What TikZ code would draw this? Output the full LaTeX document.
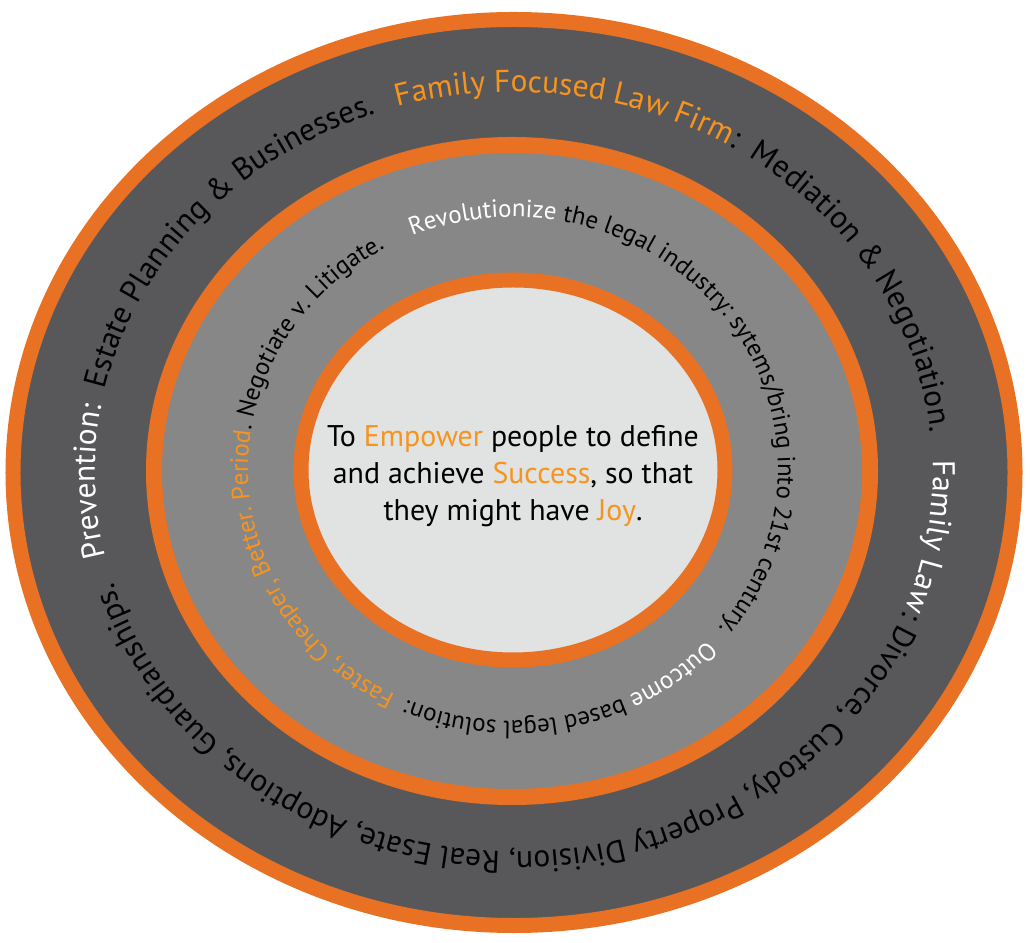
\documentclass[tikz,border=0pt]{standalone}
\usepackage{fontspec}
\setmainfont{PT Sans}
\usetikzlibrary{decorations.text,calc}
\definecolor{ring}{HTML}{E87124}
\definecolor{darkband}{HTML}{58585A}
\definecolor{midband}{HTML}{878787}
\definecolor{lightcore}{HTML}{E1E2E2}
\definecolor{txtor}{HTML}{F7941D}
\newcommand\OutW{\fontsize{31.5}{31.5}\selectfont\color{white}}
\newcommand\OutK{\fontsize{31.5}{31.5}\selectfont\color{black}}
\newcommand\OutO{\fontsize{31.5}{31.5}\selectfont\color{txtor}}
\newcommand\MidW{\fontsize{25}{25}\selectfont\color{white}}
\newcommand\MidK{\fontsize{25}{25}\selectfont\color{black}}
\newcommand\MidO{\fontsize{25}{25}\selectfont\color{txtor}}
\tikzset{
  band/.style={draw=ring},
  ringtext/.style={decorate, decoration={text along path, text align=center, text={#1}}}
}
\begin{document}
\begin{tikzpicture}[x=1bp,y=1bp]
\useasboundingbox (0,0) rectangle (1030,943);
\coordinate (oc) at (514,470.5);
\coordinate (mc) at (512,472);
\coordinate (ic) at (513,473);
\coordinate (tc) at (514,471);
\coordinate (sc) at (513,474);
% rings
\draw[band, line width=15bp, fill=darkband] (oc) ellipse [x radius=501bp, y radius=453bp];
\draw[band, line width=16bp, fill=midband] (mc) ellipse [x radius=358bp, y radius=326bp];
\draw[band, line width=15bp, fill=lightcore] (ic) ellipse [x radius=212bp, y radius=190bp];
% outer ring text
\path[ringtext={|\OutW|Prevention:~ |\OutK|Estate Planning {\&} Businesses.}]
  ($(tc)+(211.75:419bp and 380bp)$) arc[start angle=211.75, end angle=91.75, x radius=419bp, y radius=380bp];
\path[ringtext={|\OutO|Family Focused Law Firm|\OutK|:~ Mediation {\&} Negotiation.}]
  ($(tc)+(125.25:419bp and 380bp)$) arc[start angle=125.25, end angle=-14.75, x radius=419bp, y radius=380bp];
\path[ringtext={|\OutW|Family Law|\OutK|: Divorce, Custody, Property Division, Real Esate, Adoptions, Guardianships.}]
  ($(tc)+(29.25:419bp and 380bp)$) arc[start angle=29.25, end angle=-190.75, x radius=419bp, y radius=380bp];
% middle ring text
\path[ringtext={|\MidW|Revolutionize |\MidK|the legal industry: sytems/bring into 21st century.}]
  ($(sc)+(131.5:265bp and 252bp)$) arc[start angle=131.5, end angle=-58.5, x radius=265bp, y radius=252bp];
\path[ringtext={|\MidW|Outcome |\MidK|based legal solution:~ |\MidO|Faster, Cheaper, Better. Period|\MidK|.}]
  ($(sc)+(-26.5:265bp and 252bp)$) arc[start angle=-26.5, end angle=-206.5, x radius=265bp, y radius=252bp];
\path[ringtext={|\MidK|Negotiate v. Litigate.}]
  ($(sc)+(184:265bp and 252bp)$) arc[start angle=184, end angle=104, x radius=265bp, y radius=252bp];
% centre text
\node[align=center, font=\fontsize{30}{37}\selectfont] (mission) at (513,467)
  {To \textcolor{txtor}{Empower} people to define\\and achieve \textcolor{txtor}{Success}, so that\\they might have \textcolor{txtor}{Joy}.};
\end{tikzpicture}
\end{document}
